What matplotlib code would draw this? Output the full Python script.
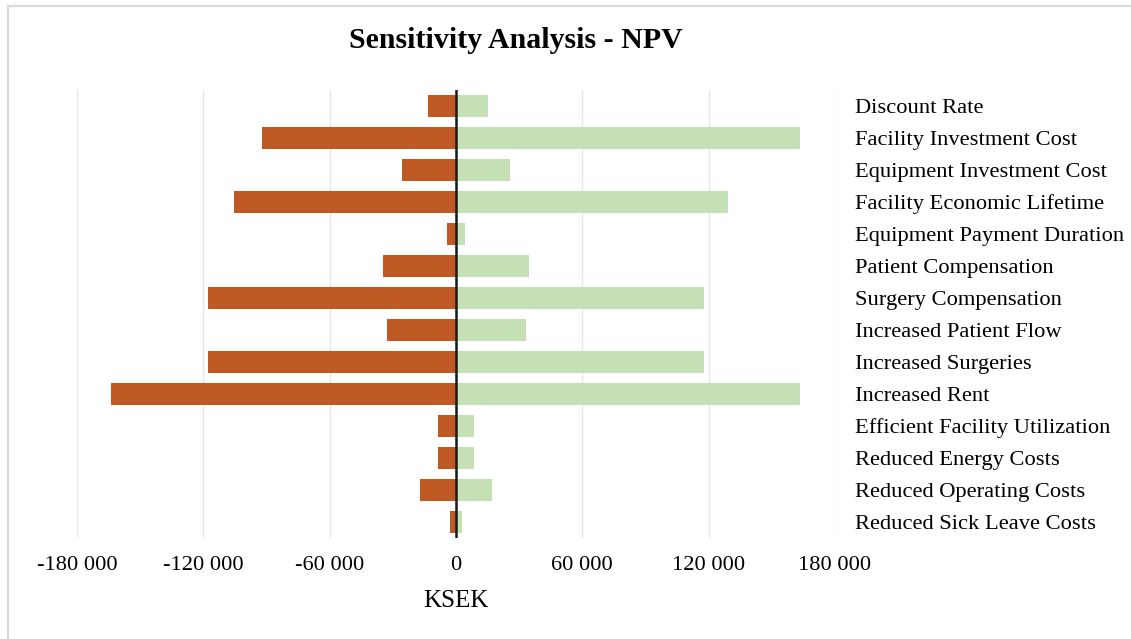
import matplotlib
matplotlib.use("Agg")
import matplotlib.pyplot as plt
from matplotlib.patches import Rectangle
from matplotlib.ticker import FuncFormatter

# Sensitivity of NPV (KSEK) to each input parameter
parameters = [
    "Discount Rate",
    "Facility Investment Cost",
    "Equipment Investment Cost",
    "Facility Economic Lifetime",
    "Equipment Payment Duration",
    "Patient Compensation",
    "Surgery Compensation",
    "Increased Patient Flow",
    "Increased Surgeries",
    "Increased Rent",
    "Efficient Facility Utilization",
    "Reduced Energy Costs",
    "Reduced Operating Costs",
    "Reduced Sick Leave Costs",
]
low_case = [-13300, -92200, -25800, -105400, -4300, -34600, -118000,
            -32800, -118000, -164000, -8500, -8500, -17000, -3000]
high_case = [15000, 163600, 25800, 129300, 4100, 34700, 117600,
             33300, 117600, 163600, 8500, 8500, 17200, 2900]
x_ticks = [-180000, -120000, -60000, 0, 60000, 120000, 180000]

ORANGE = "#C05A24"
GREEN = "#C5E0B4"
SERIF = ["Liberation Serif", "DejaVu Serif"]

fig = plt.figure(figsize=(11.31, 6.39), dpi=100)
fig.patches.append(Rectangle((8 / 1131, -0.1), 1.2, 1.1 - 6 / 639,
                             transform=fig.transFigure, fill=False,
                             edgecolor="#D9D9D9", linewidth=1.5))

ax = fig.add_axes([77 / 1131, 101 / 639, 758 / 1131, 448 / 639])
pos = list(range(len(parameters)))
ax.barh(pos, low_case, height=0.69, color=ORANGE, zorder=3)
ax.barh(pos, high_case, height=0.69, color=GREEN, zorder=3)
ax.axvline(0, color="#1a1a1a", linewidth=1.8, zorder=4)

ax.set_xlim(-180000, 180000)
ax.set_ylim(len(parameters) - 0.5, -0.5)
ax.set_xticks(x_ticks)
ax.xaxis.set_major_formatter(FuncFormatter(
    lambda v, p: f"{int(v):,}".replace(",", " ")))
ax.grid(axis="x", color="#E6E6E6", linewidth=1.0, zorder=0)
for s in ax.spines.values():
    s.set_visible(False)

ax.set_yticks(pos)
ax.set_yticklabels(parameters, family=SERIF, fontsize=16.2)
ax.yaxis.tick_right()
ax.tick_params(axis="y", length=0, pad=14.5)
ax.tick_params(axis="x", length=0, pad=13, labelsize=16.1)
for t in ax.get_xticklabels():
    t.set_family(SERIF)

fig.text(516 / 1131, 1 - 41 / 639, "Sensitivity Analysis - NPV",
         family=SERIF, fontsize=21.5, fontweight="bold",
         ha="center", va="center")
fig.text(456 / 1131, 1 - 601 / 639, "KSEK", family=SERIF, fontsize=18,
         ha="center", va="center")

fig.savefig("out.png", dpi=100)
